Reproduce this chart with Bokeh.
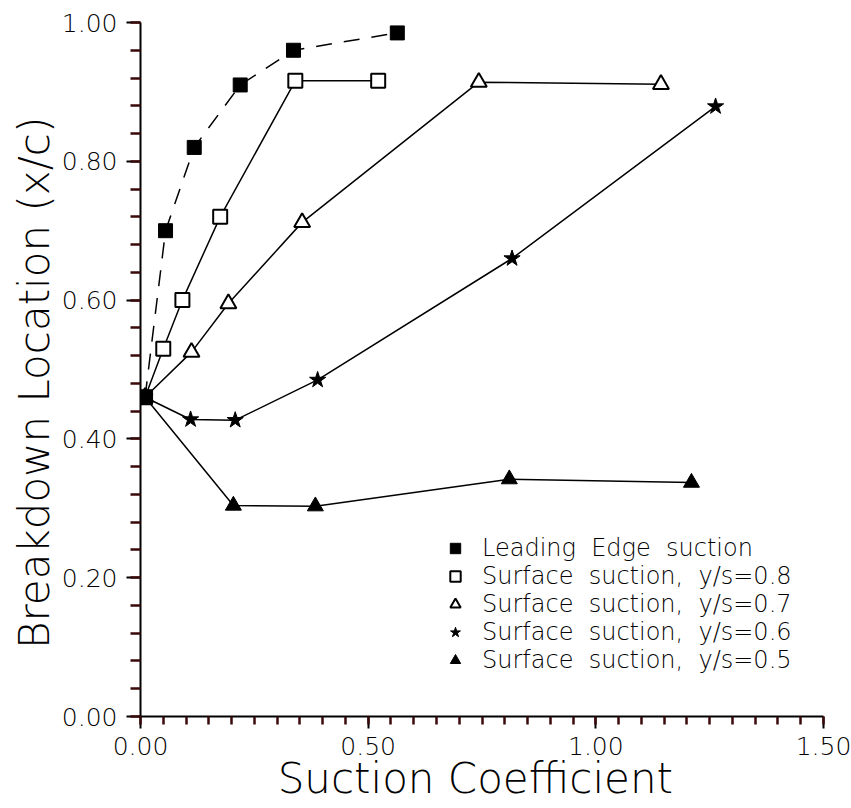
from bokeh.plotting import figure
from bokeh.models import Range1d, SingleIntervalTicker, NumeralTickFormatter, Legend, LegendItem
from bokeh.embed import file_html
from bokeh.resources import INLINE

# ---- data ----
le_x = [0.01, 0.055, 0.118, 0.219, 0.336, 0.564]
le_y = [0.46, 0.70, 0.82, 0.91, 0.96, 0.985]
s08_x = [0.01, 0.05, 0.092, 0.175, 0.34, 0.522]
s08_y = [0.46, 0.53, 0.60, 0.72, 0.916, 0.916]
s07_x = [0.01, 0.112, 0.193, 0.355, 0.743, 1.143]
s07_y = [0.46, 0.525, 0.595, 0.712, 0.914, 0.911]
s06_x = [0.01, 0.11, 0.208, 0.389, 0.816, 1.263]
s06_y = [0.46, 0.428, 0.427, 0.485, 0.66, 0.879]
s05_x = [0.01, 0.204, 0.384, 0.81, 1.21]
s05_y = [0.46, 0.304, 0.303, 0.342, 0.337]

legend_labels = [
    "Leading  Edge  suction",
    "Surface  suction,  y/s=0.8",
    "Surface  suction,  y/s=0.7",
    "Surface  suction,  y/s=0.6",
    "Surface  suction,  y/s=0.5",
]
x_tick_step = 0.5   # labels 0.00, 0.50, 1.00, 1.50
y_tick_step = 0.2   # labels 0.00 ... 1.00
x_label = "Suction  Coefficient"
y_label = "Breakdown  Location  (x/c)"

FONT = "DejaVu Sans Light"

p = figure(width=851, height=808, output_backend="svg", toolbar_location=None,
           x_range=Range1d(0, 1.5), y_range=Range1d(0, 1.0),
           min_border_left=140, min_border_right=28, min_border_top=22, min_border_bottom=92)
p.outline_line_color = None
p.xgrid.visible = False
p.ygrid.visible = False
p.background_fill_color = "white"
p.border_fill_color = "white"

xax = p.xaxis[0]
yax = p.yaxis[0]
xax.ticker = SingleIntervalTicker(interval=x_tick_step, num_minor_ticks=10)
yax.ticker = SingleIntervalTicker(interval=y_tick_step, num_minor_ticks=5)
for ax in (xax, yax):
    ax.formatter = NumeralTickFormatter(format="0.00")
    ax.axis_line_color = "black"
    ax.axis_line_width = 2
    ax.major_tick_line_color = "black"
    ax.minor_tick_line_color = "#3a0a0a"
    ax.major_tick_line_width = 2
    ax.minor_tick_line_width = 2.5
    ax.major_tick_in = 0
    ax.minor_tick_in = 0
    ax.major_label_text_font = FONT
    ax.major_label_text_font_size = "25px"
    ax.major_label_text_color = "black"
    ax.axis_label_text_font = FONT
    ax.axis_label_text_font_size = "42px"
    ax.axis_label_text_font_style = "normal"
    ax.axis_label_text_color = "black"

xax.major_tick_out = 12
xax.minor_tick_out = 8
yax.major_tick_out = 14
yax.minor_tick_out = 10
xax.major_label_standoff = 8
yax.major_label_standoff = 9
xax.axis_label = x_label
yax.axis_label = y_label
xax.axis_label_standoff = -4
yax.axis_label_standoff = 0

# lines
p.line(le_x, le_y, line_color="black", line_width=1.5, line_dash="16 12")
p.line(s08_x, s08_y, line_color="black", line_width=1.5)
p.line(s07_x, s07_y, line_color="black", line_width=1.5)
p.line(s06_x, s06_y, line_color="black", line_width=1.5)
p.line(s05_x, s05_y, line_color="black", line_width=1.5)

# markers
r05 = p.scatter(s05_x, s05_y, marker="triangle", size=16, fill_color="black", line_color="black", line_width=1)
r06 = p.scatter(s06_x, s06_y, marker="star", size=17, fill_color="black", line_color="black", line_width=1)
r07 = p.scatter(s07_x, s07_y, marker="triangle", size=16, fill_color="white", line_color="black", line_width=2)
r08 = p.scatter(s08_x, s08_y, marker="square", size=14, fill_color="white", line_color="black", line_width=2)
rle = p.scatter(le_x, le_y, marker="square", size=14, fill_color="black", line_color="black", line_width=1)

items = [LegendItem(label=lab, renderers=[r]) for lab, r in
         zip(legend_labels, [rle, r08, r07, r06, r05])]
legend = Legend(items=items, location=(300, 42), orientation="vertical",
                glyph_width=30, glyph_height=26, spacing=0, label_standoff=12,
                padding=0, margin=0, border_line_color=None, background_fill_alpha=0,
                label_text_font=FONT, label_text_font_size="24px", label_text_color="black",
                label_height=26)
p.add_layout(legend, "center")

open("out.html", "w").write(file_html(p, INLINE))
